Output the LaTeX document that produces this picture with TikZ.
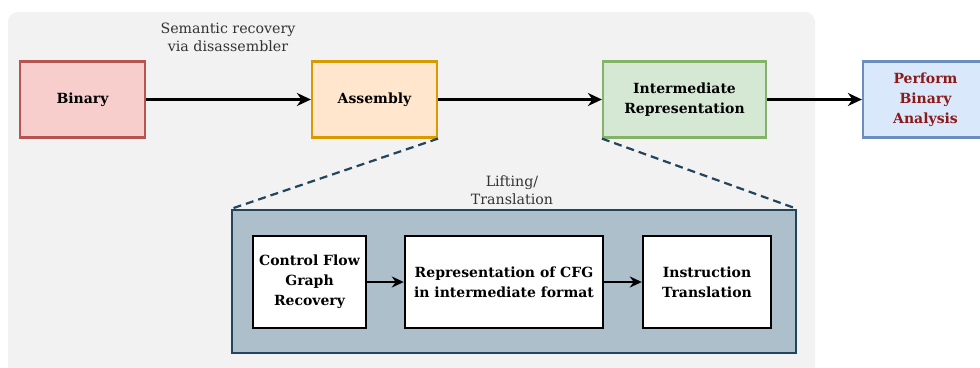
\documentclass[tikz,border=0pt]{standalone}
\usepackage{fontspec}
\setmainfont{DejaVu Serif}
\usetikzlibrary{arrows.meta}
\definecolor{bgpanel}{HTML}{F2F2F2}
\definecolor{redfill}{HTML}{F8CECC}\definecolor{redline}{HTML}{B85450}
\definecolor{orfill}{HTML}{FFE6CC}\definecolor{orline}{HTML}{D79B00}
\definecolor{grfill}{HTML}{D5E8D4}\definecolor{grline}{HTML}{82B366}
\definecolor{blfill}{HTML}{DAE8FC}\definecolor{blline}{HTML}{6C8EBF}
\definecolor{liftfill}{HTML}{AEBFCC}\definecolor{liftline}{HTML}{23445D}
\definecolor{darkred}{HTML}{8B1A1A}
\definecolor{labgray}{HTML}{333333}
\tikzset{
  box/.style={draw, line width=2.2pt, minimum height=76pt, align=center, font=\bfseries\fontsize{14}{20}\selectfont, inner sep=2pt},
  inbox/.style={draw=black, fill=white, line width=2.4pt, minimum height=92pt, align=center, font=\bfseries\fontsize{14}{20}\selectfont, inner sep=2pt},
  arr/.style={-{Stealth[length=14pt,width=13pt]}, line width=2.6pt},
  iarr/.style={-{Stealth[length=12pt,width=11pt]}, line width=2.6pt},
  dashln/.style={draw=liftline, dashed, dash pattern=on 8pt off 5pt, line width=2.2pt},
  lab/.style={align=center, text=labgray, font=\fontsize{14.2}{18}\selectfont}
}
\begin{document}
\begin{tikzpicture}[x=1pt,y=-1pt]
\useasboundingbox (0,0) rectangle (980,367);
\fill[white] (0,0) rectangle (980,367);
\clip (0,0) rectangle (980,367);
\fill[bgpanel, rounded corners=10pt] (8,12) rectangle (815,380);
\node[box, draw=redline, fill=redfill, minimum width=125pt] (bin) at (82.5,99.5) {Binary};
\node[box, draw=orline, fill=orfill, minimum width=125pt] (asm) at (374.5,99.5) {Assembly};
\node[box, draw=grline, fill=grfill, minimum width=163pt] (ir) at (684.5,99.5) {Intermediate\\Representation};
\node[box, draw=blline, fill=blfill, minimum width=125pt, text=darkred] (pba) at (925.5,99.5) {Perform\\Binary\\Analysis};
\node[lab] (sem) at (228,37) {Semantic recovery\\via disassembler};
\draw[arr] (bin) -- (asm);
\draw[arr] (asm) -- (ir);
\draw[arr] (ir) -- (pba);
\node[draw=liftline, fill=liftfill, line width=2.2pt, minimum width=564pt, minimum height=143pt, inner sep=0pt] (lift) at (514,281.5) {};
\node[lab] (liftlab) at (512,190) {Lifting/\\Translation};
\draw[dashln] (asm.south east) -- (lift.north west);
\draw[dashln] (ir.south west) -- (lift.north east);
\node[inbox, minimum width=113pt] (cfg) at (309.5,282) {Control Flow\\Graph\\Recovery};
\node[inbox, minimum width=198pt] (rep) at (504,282) {Representation of CFG\\in intermediate format};
\node[inbox, minimum width=128pt] (ins) at (707,282) {Instruction\\Translation};
\draw[iarr] (cfg) -- (rep);
\draw[iarr] (rep) -- (ins);
\end{tikzpicture}
\end{document}
